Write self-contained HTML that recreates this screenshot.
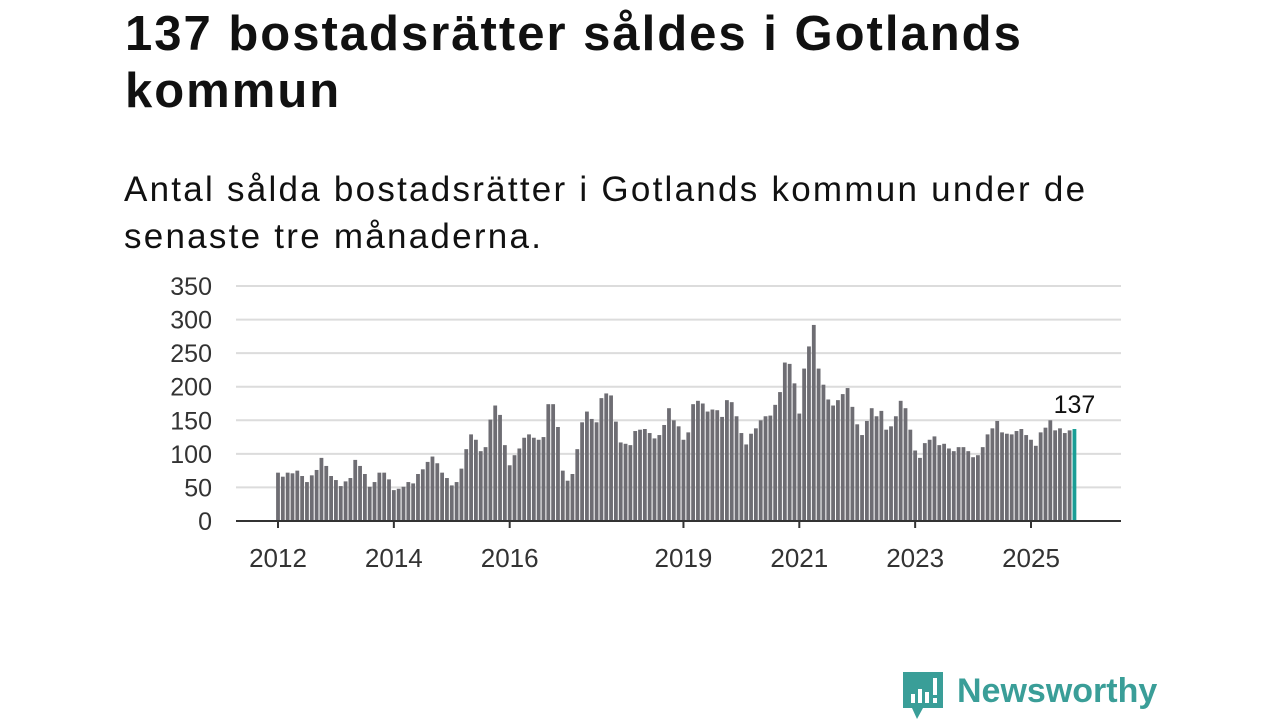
<!DOCTYPE html>
<html><head><meta charset="utf-8"><style>
body{margin:0;background:#fff;width:1280px;height:720px;overflow:hidden;font-family:"Liberation Sans","DejaVu Sans",sans-serif;}
h1{position:absolute;left:125px;top:6px;margin:0;font-size:49px;line-height:57px;font-weight:bold;color:#111;width:960px;letter-spacing:2px;}
p.sub{position:absolute;left:124px;top:166px;margin:0;font-size:35px;line-height:47px;color:#111;width:1000px;letter-spacing:2.25px;}
svg{position:absolute;left:0;top:0;}
</style></head><body>
<h1>137 bostadsrätter såldes i Gotlands kommun</h1>
<p class="sub">Antal sålda bostadsrätter i Gotlands kommun under de senaste tre månaderna.</p>
<svg id="chart" width="1280" height="720"></svg>
<div style="position:absolute;left:903px;top:672px;">
<svg width="42" height="48" style="position:absolute;left:0;top:0"><path d="M0 0H40V36H20L14 47L9 36H0Z" fill="#3a9e98"/><rect x="8" y="22" width="4" height="9" fill="#fff"/><rect x="15" y="17" width="4" height="14" fill="#fff"/><rect x="22" y="20" width="4" height="11" fill="#fff"/><rect x="30" y="6" width="4" height="17" fill="#fff"/><rect x="30" y="26" width="4" height="5" fill="#fff"/></svg>
<div style="position:absolute;left:54px;top:0px;font-size:34px;font-weight:bold;color:#3a9e98;white-space:nowrap;">Newsworthy</div>
</div>
<script>
const values=[72,66,72,71,75,67,58,68,76,94,82,67,
61,52,59,64,91,82,70,51,58,72,72,62,
46,48,51,58,56,70,77,88,96,86,72,64,
53,58,78,107,129,121,104,110,151,172,158,113,
83,98,108,124,129,124,121,125,174,174,140,75,
60,70,107,147,163,152,147,183,190,187,148,117,
115,113,134,136,137,131,123,128,143,168,150,141,
121,132,174,179,175,163,166,165,155,180,177,156,
131,114,130,138,150,156,157,173,192,236,234,205,
160,227,260,292,227,203,181,172,180,189,198,170,
144,128,149,168,156,164,136,141,156,179,168,136,
105,94,116,121,126,113,115,108,104,110,110,104,
95,98,110,129,138,149,132,130,129,134,137,128,
121,112,132,139,150,135,138,131,135,137];
const yTicks=[0,50,100,150,200,250,300,350];
const xLabels=["2012","2014","2016","2019","2021","2023","2025"];
const xLabelYears=[2012,2014,2016,2019,2021,2023,2025];
const lastLabel="137";
const svg=document.getElementById('chart');
const NS='http://www.w3.org/2000/svg';
const x0=236,x1=1121,yBase=521,yTop=286;
const yS=v=>yBase-(v/350)*(yBase-yTop);
const xS=i=>278+i*(1031-278)/156;
function mk(t,a){const e=document.createElementNS(NS,t);for(const k in a)e.setAttribute(k,a[k]);svg.appendChild(e);return e;}
yTicks.forEach(t=>{
 if(t>0){const g=mk('line',{x1:x0,x2:x1,y1:yS(t),y2:yS(t),stroke:'#dcdcdc','stroke-width':2});
 
 }
 const l=mk('text',{x:212,y:yS(t)+9,'text-anchor':'end','font-size':25,fill:'#333','font-family':'Liberation Sans, sans-serif'});
 l.textContent=t;
 
 
});
values.forEach((v,i)=>{
 const last=i===values.length-1;
 const b=mk('rect',{x:xS(i)-1.9,y:yS(v),width:3.8,height:yBase-yS(v),fill:last?'#1a9e96':'#6e6d73'});
 
 
});
const ax=mk('line',{x1:x0,x2:x1,y1:yBase,y2:yBase,stroke:'#333','stroke-width':2});


xLabels.forEach((s,k)=>{
 const x=xS((xLabelYears[k]-2012)*12);
 const tk=mk('line',{x1:x,x2:x,y1:yBase,y2:yBase+7,stroke:'#333','stroke-width':2});
 
 
 const t=mk('text',{x:x,y:567,'text-anchor':'middle','font-size':26,fill:'#333','font-family':'Liberation Sans, sans-serif'});
 t.textContent=s;
 
 
});
const li=values.length-1;
const vl=mk('text',{x:xS(li),y:yS(values[li])-16,'text-anchor':'middle','font-size':25,fill:'#111','font-family':'Liberation Sans, sans-serif'});
vl.textContent=lastLabel;


</script>
</body></html>
